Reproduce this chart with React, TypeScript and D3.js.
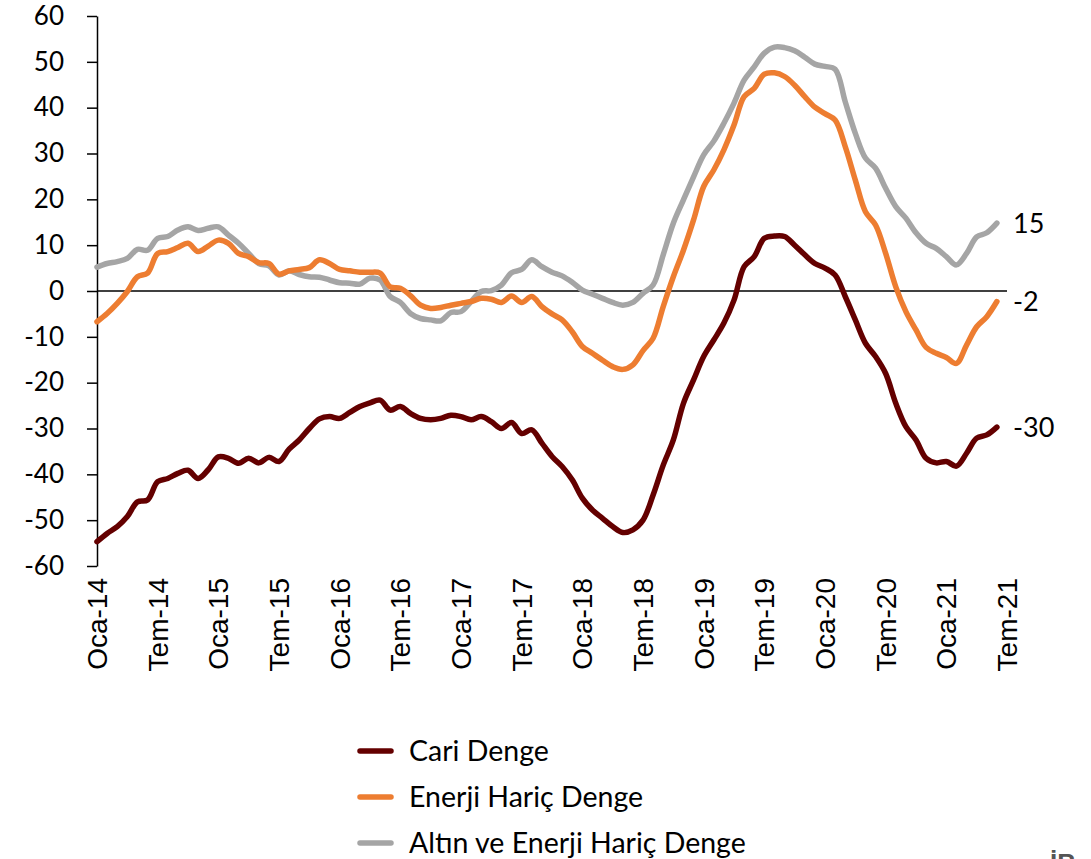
import React, { useEffect, useRef } from "react";
import * as d3 from "d3";

// monthly, Oca-14 .. Haz-21
const cariDenge = [
  -54.7, -52.9, -51.4, -49.2, -46, -45.6, -41.6, -40.9, -39.8, -39.1,
  -40.9, -39, -36.2, -36.5, -37.6, -36.5, -37.5, -36.3, -37.2, -34.5,
  -32.5, -30, -27.9, -27.4, -27.8, -26.5, -25.2, -24.4, -23.8, -26,
  -25.2, -26.7, -27.8, -28.1, -27.8, -27.1, -27.4, -28.1, -27.4, -28.5,
  -30, -28.7, -31.1, -30.3, -33.2, -36.1, -38.3, -41.2, -45.2, -47.8,
  -49.6, -51.4, -52.7, -52.1, -50, -44.5, -38, -32.5, -24.5, -19.4,
  -14.3, -10.7, -7, -2, 5.3, 7.5, 11.5, 12, 11.9, 10,
  7.9, 6, 5, 3.5, -1.2, -6.3, -11.4, -14.3, -18, -24.5,
  -29.6, -32.5, -36.5, -37.5, -37.2, -38.2, -35.4, -32.1, -31.4, -29.7,
];

const enerjiHaric = [
  -6.7, -4.9, -2.7, -0.1, 3.1, 3.9, 8.2, 8.6, 9.5, 10.4,
  8.6, 9.8, 11.1, 10.4, 8.2, 7.5, 6.2, 6, 3.7, 4.4,
  4.7, 5.1, 6.8, 6, 4.7, 4.4, 4.1, 4.1, 3.9, 0.9,
  0.6, -1, -3.1, -3.8, -3.6, -3.1, -2.7, -2.3, -1.6, -1.8,
  -2.5, -1.1, -2.5, -1.2, -3.4, -5, -6.3, -8.9, -12.1, -13.6,
  -15.1, -16.5, -17.1, -16.1, -13, -10.3, -3.4, 3.1, 8.9, 15.5,
  22.8, 26.4, 30.8, 36.2, 42.4, 44.2, 47.3, 47.6, 46.8, 44.9,
  42.4, 40.1, 38.7, 37.3, 31.5, 24.2, 17.3, 14.4, 8.2, 0.9,
  -4.5, -8.5, -12.3, -13.6, -14.5, -15.8, -11.8, -7.8, -5.6, -2.3,
];

const altinEnerjiHaric = [
  5.2, 6, 6.4, 7.1, 9.1, 8.9, 11.5, 11.9, 13.3, 14,
  13.2, 13.7, 14, 12.2, 10.4, 8.2, 6, 5.5, 3.5, 4.4,
  3.6, 3.1, 3, 2.4, 1.8, 1.7, 1.5, 2.8, 2.4, -1.2,
  -2.5, -4.9, -6, -6.3, -6.5, -4.7, -4.5, -2.3, -0.1, 0.1,
  1.3, 4, 4.7, 6.8, 5.3, 4.1, 3.3, 1.9, 0.2, -0.7,
  -1.6, -2.5, -3.1, -2.5, -0.5, 1.3, 7.9, 14.8, 19.9, 24.9,
  29.7, 32.7, 36.6, 41, 46, 48.9, 51.9, 53.2, 53.1, 52.4,
  51, 49.5, 49, 48.4, 41.3, 34.4, 29, 26.8, 22.4, 18.4,
  15.9, 12.7, 10.4, 9.3, 7.5, 5.7, 8.2, 11.8, 12.7, 14.8,
];

const tickLabels = [
  "Oca-14", "Tem-14", "Oca-15", "Tem-15", "Oca-16", "Tem-16", "Oca-17", "Tem-17",
  "Oca-18", "Tem-18", "Oca-19", "Tem-19", "Oca-20", "Tem-20", "Oca-21", "Tem-21",
];

const seriesNames = ["Cari Denge", "Enerji Hariç Denge", "Altın ve Enerji Hariç Denge"];
const seriesColors = ["#640000", "#ED7D31", "#A5A5A5"];

const calibriLike = "Lato, 'Open Sans', sans-serif";
const arialLike = "'Liberation Sans', Arial, sans-serif";

const App = () => {
  const ref = useRef<SVGSVGElement>(null);

  useEffect(() => {
    const svg = d3.select(ref.current);
    svg.selectAll("*").remove();

    const x = d3.scaleLinear().domain([0, 90]).range([97, 1007]);
    const y = d3.scaleLinear().domain([-60, 60]).range([566, 16]);

    // y axis
    const yAxis = svg
      .append("g")
      .attr("transform", "translate(97,0)")
      .call(
        d3
          .axisLeft(y)
          .tickValues(d3.range(-60, 61, 10))
          .tickFormat((d) => String(d))
          .tickSize(10)
          .tickPadding(23)
          .tickSizeOuter(0)
      );
    yAxis.select(".domain").attr("stroke", "#000").attr("stroke-width", 1.5);
    yAxis.selectAll(".tick line").attr("stroke", "#000").attr("stroke-width", 1.5);
    yAxis
      .selectAll(".tick text")
      .attr("font-family", calibriLike)
      .attr("font-size", 26)
      .attr("fill", "#000");

    // zero line (category axis)
    svg
      .append("line")
      .attr("x1", x(0))
      .attr("x2", x(90))
      .attr("y1", y(0))
      .attr("y2", y(0))
      .attr("stroke", "#000")
      .attr("stroke-width", 1.5);

    // x labels, rotated
    svg
      .append("g")
      .selectAll("text")
      .data(tickLabels)
      .enter()
      .append("text")
      .attr("transform", (d, i) => `translate(${x(i * 6) + 10},578) rotate(-90)`)
      .attr("text-anchor", "end")
      .attr("font-family", arialLike)
      .attr("font-size", 28)
      .attr("fill", "#000")
      .text((d) => d);

    const line = d3
      .line<number>()
      .x((d, i) => x(i))
      .y((d) => y(d))
      .curve(d3.curveCatmullRom.alpha(0.5));

    const allSeries = [cariDenge, enerjiHaric, altinEnerjiHaric];
    [2, 1, 0].forEach((k) => {
      svg
        .append("path")
        .datum(allSeries[k])
        .attr("d", line)
        .attr("fill", "none")
        .attr("stroke", seriesColors[k])
        .attr("stroke-width", 5.5)
        .attr("stroke-linejoin", "round")
        .attr("stroke-linecap", "round");
    });

    // end labels
    svg
      .append("g")
      .selectAll("text")
      .data(allSeries)
      .enter()
      .append("text")
      .attr("x", 1013)
      .attr("y", (d) => y(d[d.length - 1]))
      .attr("dy", "0.35em")
      .attr("font-family", calibriLike)
      .attr("font-size", 27)
      .attr("fill", "#000")
      .text((d) => String(Math.round(d[d.length - 1])));

    // legend
    const legend = svg
      .append("g")
      .selectAll("g")
      .data(seriesNames)
      .enter()
      .append("g")
      .attr("transform", (d, i) => `translate(358,${751 + i * 46})`);
    legend
      .append("line")
      .attr("x1", 2)
      .attr("x2", 33)
      .attr("stroke", (d, i) => seriesColors[i])
      .attr("stroke-width", 5.5)
      .attr("stroke-linecap", "round");
    legend
      .append("text")
      .attr("x", 51)
      .attr("dy", "0.35em")
      .attr("font-family", calibriLike)
      .attr("font-size", 28.5)
      .attr("fill", "#000")
      .text((d) => d);

    // source mark, cut by the frame as in the original
    svg
      .append("text")
      .attr("x", 1050)
      .attr("y", 872)
      .attr("font-family", arialLike)
      .attr("font-weight", "bold")
      .attr("font-size", 26)
      .attr("fill", "#555")
      .text("İB");
  }, []);

  return (
    <svg
      ref={ref}
      width={1091}
      height={859}
      style={{ position: "absolute", left: 0, top: 0, background: "#fff" }}
    />
  );
};

export default App;
